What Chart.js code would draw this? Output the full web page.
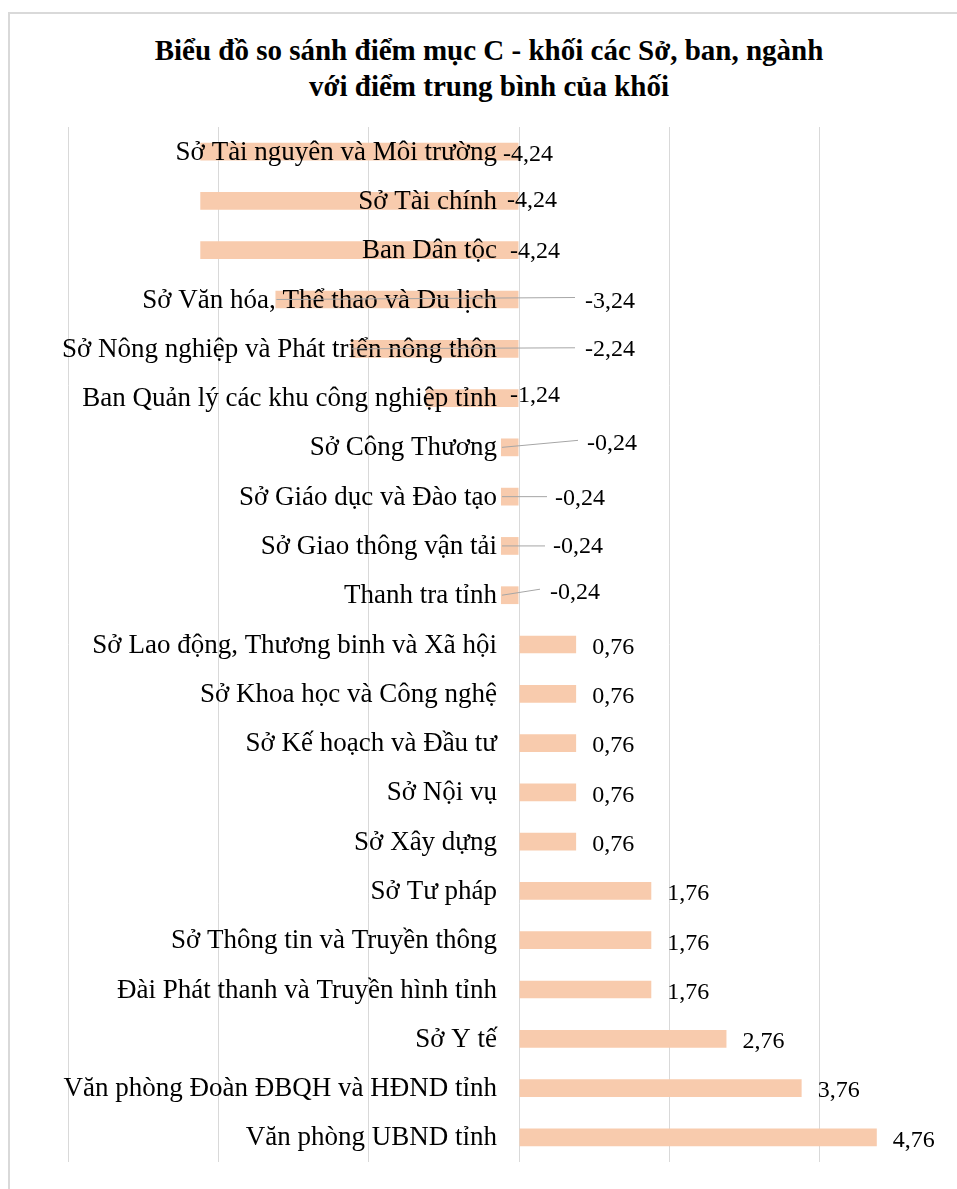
<!DOCTYPE html>
<html lang="vi">
<head>
  <meta charset="UTF-8">
  <title>Biểu đồ so sánh điểm mục C</title>
  <script src="https://cdn.jsdelivr.net/npm/chart.js"></script>
  <style>
    html, body { margin: 0; padding: 0; background: #fff; overflow: hidden; }
    body { width: 957px; height: 1189px; position: relative; font-family: 'Liberation Serif', 'DejaVu Serif', serif; }
    /* Excel-style chart frame, only top and left edges are visible */
    .frame {
      position: absolute; left: 8px; top: 12px; width: 1200px; height: 1300px;
      border-top: 2px solid #d9d9d9; border-left: 2px solid #d9d9d9;
    }
    .title {
      position: absolute; left: 0; top: 32px; width: 978px; text-align: center;
      font-weight: bold; font-size: 29px; line-height: 36px; color: #000;
    }
    .chart-box { position: absolute; left: 0; top: 0; width: 1000px; height: 1189px; }
  </style>
</head>
<body>
  <div class="frame"></div>
  <div class="title">Biểu đồ so sánh điểm mục C - khối các Sở, ban, ngành<br>với điểm trung bình của khối</div>
  <div class="chart-box"><canvas id="chart"></canvas></div>

  <script>
    const categories = [
      "Sở Tài nguyên và Môi trường",
      "Sở Tài chính",
      "Ban Dân tộc",
      "Sở Văn hóa, Thể thao và Du lịch",
      "Sở Nông nghiệp và Phát triển nông thôn",
      "Ban Quản lý các khu công nghiệp tỉnh",
      "Sở Công Thương",
      "Sở Giáo dục và Đào tạo",
      "Sở Giao thông vận tải",
      "Thanh tra tỉnh",
      "Sở Lao động, Thương binh và Xã hội",
      "Sở Khoa học và Công nghệ",
      "Sở Kế hoạch và Đầu tư",
      "Sở Nội vụ",
      "Sở Xây dựng",
      "Sở Tư pháp",
      "Sở Thông tin và Truyền thông",
      "Đài Phát thanh và Truyền hình tỉnh",
      "Sở Y tế",
      "Văn phòng Đoàn ĐBQH và HĐND tỉnh",
      "Văn phòng UBND tỉnh"
    ];
    const diffValues = [
      -4.24, -4.24, -4.24, -3.24, -2.24, -1.24, -0.24, -0.24, -0.24, -0.24,
      0.76, 0.76, 0.76, 0.76, 0.76, 1.76, 1.76, 1.76, 2.76, 3.76, 4.76
    ];
    const xTicks = [-6, -4, -2, 0, 2, 4, 6];

    // hand-moved labels of negative bars (Excel layout): [dx from zero axis, dy, leader end [dx, dy]]
    const labelNudge = [
      [-16, 3, null], [-12, 0, null], [-9, 1, null],
      [66, 2, [56, -2]], [66, 1, [56, -1]], [-9, -2, null],
      [68, -4, [59, -7]], [36, 2, [28, 0]], [34, 1, [26, 0]], [31, -3, [21, -6]]
    ];

    const fmt = v => v.toFixed(2).replace(".", ",");

    // category names sit right next to the zero axis, on top of the bars
    const categoryLabels = {
      id: "categoryLabels",
      afterDatasetsDraw(chart) {
        const ctx = chart.ctx;
        const x0 = chart.scales.x.getPixelForValue(0);
        const yScale = chart.scales.y;
        ctx.save();
        ctx.font = "27px 'Liberation Serif'";
        ctx.fillStyle = "#000";
        ctx.textAlign = "right";
        ctx.textBaseline = "middle";
        categories.forEach((name, i) => {
          ctx.fillText(name, x0 - 22, yScale.getPixelForValue(i) + 1);
        });
        ctx.restore();
      }
    };

    const valueLabels = {
      id: "valueLabels",
      afterDatasetsDraw(chart) {
        const ctx = chart.ctx;
        const meta = chart.getDatasetMeta(0);
        const x0 = chart.scales.x.getPixelForValue(0);
        ctx.save();
        ctx.font = "24px 'Liberation Serif'";
        ctx.fillStyle = "#000";
        ctx.textBaseline = "middle";
        ctx.textAlign = "left";
        meta.data.forEach((bar, i) => {
          const v = diffValues[i];
          const nudge = labelNudge[i];
          let tx, ty;
          if (v < 0 && nudge) {
            tx = x0 + nudge[0];
            ty = bar.y + nudge[1];
            if (nudge[2]) {
              ctx.strokeStyle = "#a6a6a6";
              ctx.lineWidth = 1;
              ctx.beginPath();
              ctx.moveTo(bar.x + 1, bar.y);
              ctx.lineTo(x0 + nudge[2][0], bar.y + nudge[2][1]);
              ctx.stroke();
            }
          } else {
            tx = bar.x + 16;
            ty = bar.y + 3;
          }
          ctx.fillText(fmt(v), tx, ty);
        });
        ctx.restore();
      }
    };

    new Chart(document.getElementById("chart"), {
      type: "bar",
      data: {
        labels: categories,
        datasets: [{
          data: diffValues,
          backgroundColor: "#f8cbad",
          borderWidth: 0,
          categoryPercentage: 1,
          barPercentage: 0.36
        }]
      },
      options: {
        indexAxis: "y",
        responsive: true,
        maintainAspectRatio: false,
        animation: false,
        layout: { padding: { left: 68, right: 30, top: 127, bottom: 27 } },
        plugins: { legend: { display: false }, tooltip: { enabled: false }, title: { display: false } },
        scales: {
          x: {
            min: -6, max: 6,
            afterBuildTicks: axis => { axis.ticks = xTicks.map(v => ({ value: v })); },
            ticks: { display: false },
            grid: { color: "#d9d9d9", lineWidth: 1, drawTicks: false },
            border: { display: false }
          },
          y: {
            display: true,
            position: { x: 0 },
            grid: { display: false, drawTicks: false },
            border: { display: false },
            ticks: { display: false }
          }
        }
      },
      plugins: [categoryLabels, valueLabels]
    });
  </script>
</body>
</html>
